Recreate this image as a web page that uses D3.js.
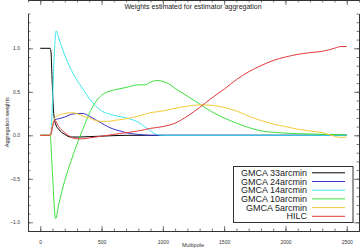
<!DOCTYPE html>
<html>
<head>
<meta charset="utf-8">
<script src="https://cdn.jsdelivr.net/npm/d3@7"></script>
<style>
  body { margin: 0; background: #fff; }
  svg { font-family: "Liberation Sans", Arial, sans-serif; }
  .tick-label { font-size: 5px; fill: #333; }
</style>
</head>
<body>
<div id="chart"></div>
<script>
// weights per multipole: [multipole, weight]
var gmca33 = [[0,1],[80,1],[88,0.95],[95,0.7],[102,0.45],[110,0.25],[125,0.13],[150,0.07],[200,0.01],[250,-0.02],[300,-0.02],[400,-0.015],[500,-0.01],[700,0],[2500,0]];
var gmca24 = [[0,0],[85,0],[100,0.1],[120,0.18],[150,0.19],[200,0.21],[250,0.24],[300,0.25],[350,0.25],[400,0.22],[450,0.18],[500,0.14],[550,0.1],[600,0.07],[650,0.05],[700,0.03],[800,0.01],[900,0],[2500,0]];
var gmca14 = [[0,0],[85,0],[100,0.4],[115,0.95],[130,1.2],[150,1.12],[200,0.92],[250,0.76],[300,0.63],[350,0.53],[400,0.42],[450,0.34],[500,0.28],[550,0.25],[600,0.23],[700,0.2],[750,0.18],[800,0.15],[850,0.1],[900,0.05],[950,0.01],[1000,0],[2500,0]];
var gmca10 = [[0,0],[80,0],[100,-0.45],[125,-0.96],[150,-0.8],[200,-0.52],[250,-0.3],[300,-0.1],[350,0.08],[400,0.25],[450,0.38],[500,0.46],[550,0.5],[600,0.52],[700,0.55],[800,0.58],[850,0.58],[900,0.61],[950,0.63],[1000,0.62],[1050,0.59],[1100,0.54],[1200,0.45],[1300,0.36],[1400,0.27],[1500,0.2],[1600,0.14],[1700,0.09],[1800,0.05],[1900,0.035],[2000,0.025],[2200,0.015],[2500,0.005]];
var gmca5 = [[0,0],[85,0],[100,0.12],[120,0.2],[150,0.23],[200,0.25],[250,0.26],[300,0.25],[350,0.22],[400,0.2],[450,0.17],[500,0.16],[550,0.16],[600,0.17],[700,0.19],[800,0.22],[900,0.26],[1000,0.28],[1100,0.31],[1200,0.335],[1300,0.35],[1400,0.345],[1500,0.32],[1600,0.28],[1700,0.22],[1800,0.17],[1900,0.13],[2000,0.1],[2100,0.07],[2200,0.05],[2300,0.03],[2350,0.01],[2400,-0.01],[2450,-0.025],[2500,-0.02]];
var hilc = [[0,0],[80,0],[100,0.1],[120,0.17],[150,0.1],[200,0.03],[250,-0.02],[300,-0.04],[350,-0.04],[400,-0.03],[500,-0.01],[600,0.01],[700,0.03],[800,0.05],[900,0.08],[1000,0.1],[1100,0.14],[1200,0.22],[1300,0.32],[1400,0.43],[1500,0.53],[1600,0.64],[1700,0.73],[1800,0.8],[1900,0.86],[2000,0.9],[2100,0.93],[2200,0.95],[2300,0.965],[2400,1.0],[2450,1.02],[2500,1.02]];

var seriesNames  = ['GMCA 33arcmin', 'GMCA 24arcmin', 'GMCA 14arcmin', 'GMCA 10arcmin', 'GMCA 5arcmin', 'HILC'];
var seriesValues = [gmca33, gmca24, gmca14, gmca10, gmca5, hilc];
var seriesColors = ['#000000', '#3a2fd0', '#3fe6f0', '#3ee03e', '#f6c93a', '#e03a3a'];

var xTicks = [0, 500, 1000, 1500, 2000, 2500];
var yTicks = [-1.0, -0.5, 0.0, 0.5, 1.0];

var width = 361, height = 252;
var margin = {top: 13.5, right: 2, bottom: 21, left: 28};

var svg = d3.select('#chart').append('svg')
	.attr('width', width)
	.attr('height', height);

var x = d3.scaleLinear().domain([-100, 2600]).range([margin.left, width - margin.right]);
var y = d3.scaleLinear().domain([-1.1, 1.4]).range([height - margin.bottom, margin.top]);

// title and axis labels
svg.append('text')
	.attr('x', 193).attr('y', 9)
	.attr('text-anchor', 'middle')
	.style('font-size', '7px').style('fill', '#222')
	.text('Weights estimated for estimator aggregation');

svg.append('text')
	.attr('transform', 'translate(9,' + ((y.range()[0] + y.range()[1]) / 2) + ') rotate(-90)')
	.attr('text-anchor', 'middle')
	.style('font-size', '5.5px').style('fill', '#333')
	.text('Aggregation weights');

svg.append('text')
	.attr('x', 193).attr('y', 247)
	.attr('text-anchor', 'middle')
	.style('font-size', '5.5px').style('fill', '#333')
	.text('Multipole');

// IDL-style frame: ticks on all four sides pointing inward
function frameAxis(axis, transform) {
	var g = svg.append('g').attr('transform', transform).call(axis);
	g.selectAll('line').attr('stroke', '#444').attr('stroke-width', 0.7);
	g.select('.domain').attr('stroke', '#333').attr('stroke-width', 1);
	return g;
}

var xMinor = d3.range(-100, 2601, 100);
var yMinor = d3.range(-11, 15, 1).map(function(d) { return d / 10; });

var bottom = y.range()[0], top = y.range()[1], left = x.range()[0], right = x.range()[1];

frameAxis(d3.axisBottom(x).tickValues(xMinor).tickSize(-2.5).tickSizeOuter(0).tickFormat(''), 'translate(0,' + bottom + ')');
frameAxis(d3.axisTop(x).tickValues(xMinor).tickSize(-2.5).tickSizeOuter(0).tickFormat(''), 'translate(0,' + top + ')');
frameAxis(d3.axisLeft(y).tickValues(yMinor).tickSize(-2.5).tickSizeOuter(0).tickFormat(''), 'translate(' + left + ',0)');
frameAxis(d3.axisRight(y).tickValues(yMinor).tickSize(-2.5).tickSizeOuter(0).tickFormat(''), 'translate(' + right + ',0)');

var xb = frameAxis(d3.axisBottom(x).tickValues(xTicks).tickSize(-5).tickSizeOuter(0).tickPadding(9).tickFormat(d3.format('d')), 'translate(0,' + bottom + ')');
frameAxis(d3.axisTop(x).tickValues(xTicks).tickSize(-5).tickSizeOuter(0).tickFormat(''), 'translate(0,' + top + ')');
var yl = frameAxis(d3.axisLeft(y).tickValues(yTicks).tickSize(-5).tickSizeOuter(0).tickPadding(8).tickFormat(d3.format('.1f')), 'translate(' + left + ',0)');
frameAxis(d3.axisRight(y).tickValues(yTicks).tickSize(-5).tickSizeOuter(0).tickFormat(''), 'translate(' + right + ',0)');

xb.selectAll('text').attr('class', 'tick-label').attr('font-family', null).attr('font-size', null);
yl.selectAll('text').attr('class', 'tick-label').attr('font-family', null).attr('font-size', null);

// curves
var line = d3.line()
	.x(function(d) { return x(d[0]); })
	.y(function(d) { return y(d[1]); })
	.curve(d3.curveMonotoneX);

svg.append('g')
	.selectAll('path')
	.data(seriesValues)
	.enter().append('path')
		.attr('d', function(d) { return line(d); })
		.attr('fill', 'none')
		.attr('stroke', function(d, i) { return seriesColors[i]; })
		.attr('stroke-width', 1);

// legend
var legend = svg.append('g');
legend.append('rect')
	.attr('x', 233.5).attr('y', 166.5)
	.attr('width', 119.5).attr('height', 56)
	.attr('fill', '#fff')
	.attr('stroke', '#333').attr('stroke-width', 1);

var row = legend.selectAll('g.row')
	.data(seriesNames)
	.enter().append('g')
	.attr('class', 'row')
	.attr('transform', function(d, i) { return 'translate(0,' + (172.8 + i * 8.7) + ')'; });

row.append('text')
	.attr('x', 307).attr('y', 3)
	.attr('text-anchor', 'end')
	.style('font-size', '9px').style('fill', '#222')
	.text(function(d) { return d; });

row.append('line')
	.attr('x1', 312).attr('x2', 345)
	.attr('stroke', function(d, i) { return seriesColors[i]; })
	.attr('stroke-width', 1);
</script>
</body>
</html>
